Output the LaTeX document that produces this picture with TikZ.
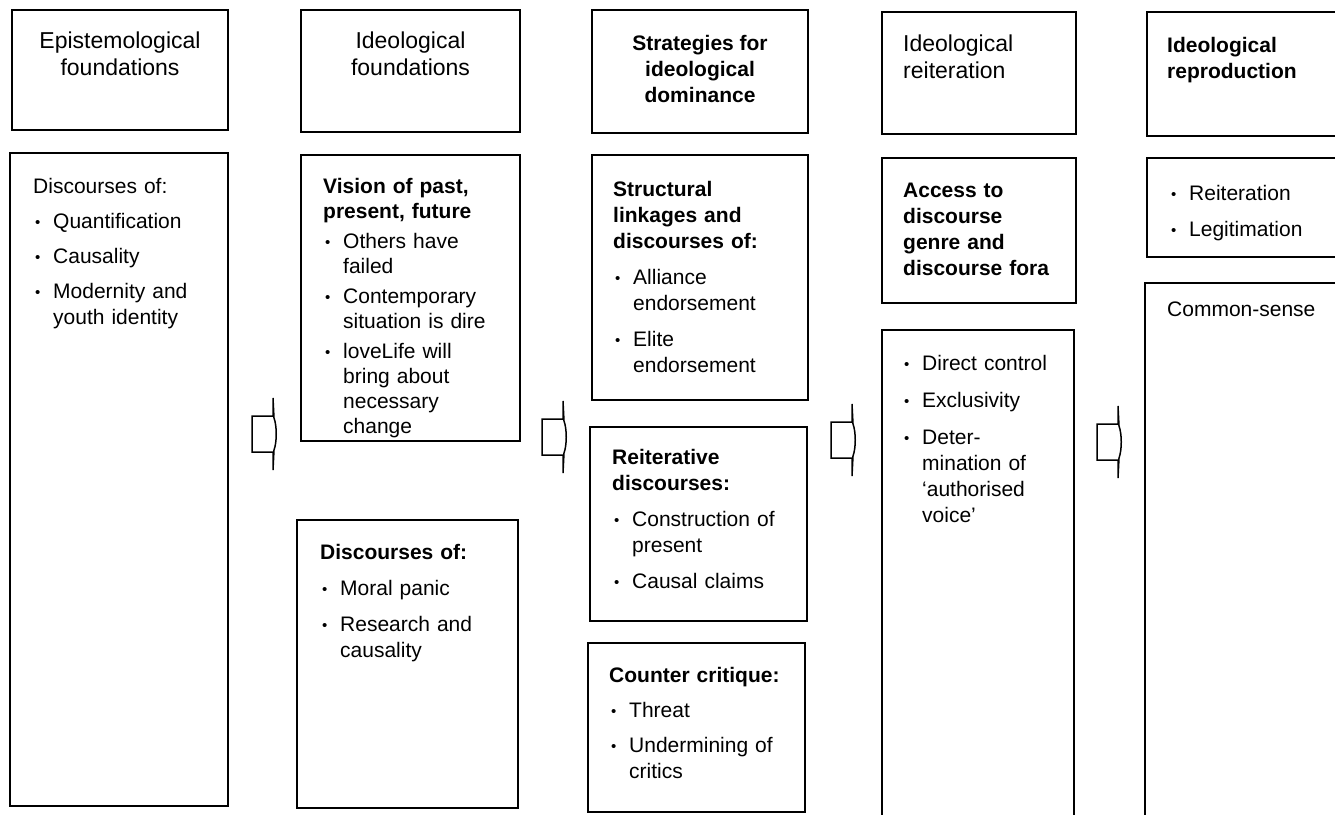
\documentclass[tikz,border=0pt]{standalone}
\usepackage{fontspec}
\setmainfont{Liberation Sans}
\usetikzlibrary{calc}

\newcommand{\bodyfont}{\fontsize{21}{26}\selectfont}
\newcommand{\headfont}{\fontsize{23}{27}\selectfont}
\newcommand{\itmgap}{10pt}
\newcommand{\nl}{\hfil\break}
\newcommand{\bul}{\makebox[20pt][l]{\hspace{2pt}\raisebox{1pt}{\fontsize{15}{15}\selectfont\textbullet}}}
% first item of a box, and every item after a heading
\newcommand{\fitm}[1]{\hangindent=20pt\hangafter=1\noindent\bul#1\par}
\newcommand{\itm}[1]{\par\vspace{\itmgap}\hangindent=20pt\hangafter=1\noindent\bul#1\par}

\tikzset{
  frame/.style={draw, line width=1.5pt, anchor=north west, inner sep=0pt, outer sep=0pt},
  head/.style={anchor=north, align=center, inner sep=0pt, font=\headfont},
  lhead/.style={anchor=north west, align=left, inner sep=0pt, font=\headfont},
  body/.style={anchor=north west, text width=200pt, align=left, inner sep=0pt, font=\bodyfont},
  itemgap/.code={\def\itmgap{#1}},
  blk/.pic={
    \draw[line width=1.5pt, line join=miter] (0,-18) -- (21,-18) -- (21,-36) -- (22,-16)
      .. controls (25,-8) and (25,8) .. (22,16) -- (21,36) -- (21,18) -- (0,18) -- cycle;
  }
}

\begin{document}
\begin{tikzpicture}[x=1pt, y=-1pt]
\useasboundingbox (0,0) rectangle (1335,814);

% column 1
\node[frame, minimum width=216pt, minimum height=120pt] (epihead) at (12,10) {};
\node[frame, minimum width=218pt, minimum height=653pt] (epibody) at (10,153) {};
\node[head] (epititle) at ($(epihead.north)+(0,22)$) {Epistemological\\foundations};
\node[body, itemgap=9pt] (epitext) at ($(epibody.north west)+(23,25)$) {\noindent Discourses of:
  \itm{Quantification}
  \itm{Causality}
  \itm{Modernity and\nl youth identity}};

% column 2
\node[frame, minimum width=219pt, minimum height=286pt] (idvision) at (301,155) {};
\node[frame, minimum width=219pt, minimum height=122pt] (idhead) at (301,10) {};
\node[frame, minimum width=221pt, minimum height=288pt] (iddisc) at (297,520) {};
\node[head] (idtitle) at ($(idhead.north)+(0,22)$) {Ideological\\foundations};
\node[body, itemgap=5pt, font=\fontsize{21}{25}\selectfont] (idvistext) at ($(idvision.north west)+(22,23)$) {\noindent\textbf{Vision of past,\nl present, future}
  \itm{Others have\nl failed}
  \itm{Contemporary\nl situation is dire}
  \itm{loveLife will\nl bring about\nl necessary\nl change}};
\node[body] (iddisctext) at ($(iddisc.north west)+(23,24)$) {\noindent\textbf{Discourses of:}
  \itm{Moral panic}
  \itm{Research and\nl causality}};

% column 3
\node[frame, minimum width=216pt, minimum height=123pt] (strhead) at (592,10) {};
\node[frame, minimum width=216pt, minimum height=245pt] (strlink) at (592,155) {};
\node[frame, minimum width=217pt, minimum height=194pt] (strreit) at (590,427) {};
\node[frame, minimum width=217pt, minimum height=169pt] (strcount) at (588,643) {};
\node[head, font=\bodyfont\bfseries] (strtitle) at ($(strhead.north)+(0,25)$) {Strategies for\\ideological\\dominance};
\node[body] (strlinktext) at ($(strlink.north west)+(21,26)$) {\noindent\textbf{Structural\nl linkages and\nl discourses of:}
  \itm{Alliance\nl endorsement}
  \itm{Elite\nl endorsement}};
\node[body] (strreittext) at ($(strreit.north west)+(22,22)$) {\noindent\textbf{Reiterative\nl discourses:}
  \itm{Construction of\nl present}
  \itm{Causal claims}};
\node[body, itemgap=9pt] (strcounttext) at ($(strcount.north west)+(21,24)$) {\noindent\textbf{Counter critique:}
  \itm{Threat}
  \itm{Undermining of\nl critics}};

% column 4
\node[frame, minimum width=194pt, minimum height=122pt] (reihead) at (882,12) {};
\node[frame, minimum width=194pt, minimum height=145pt] (reiaccess) at (882,158) {};
\node[frame, minimum width=192pt, minimum height=520pt] (reictrl) at (882,330) {};
\node[lhead] (reititle) at ($(reihead.north west)+(21,23)$) {Ideological\\reiteration};
\node[body] (reiaccesstext) at ($(reiaccess.north west)+(21,25)$) {\noindent\textbf{Access to\nl discourse\nl genre and\nl discourse fora}};
\node[body, itemgap=11pt] (reictrltext) at ($(reictrl.north west)+(20,25)$) {\fitm{Direct control}
  \itm{Exclusivity}
  \itm{Deter-\nl mination of\nl ‘authorised\nl voice’}};

% column 5
\node[frame, minimum width=220pt, minimum height=124pt] (rephead) at (1147,12) {};
\node[frame, minimum width=220pt, minimum height=99pt] (repbul) at (1147,158) {};
\node[frame, minimum width=222pt, minimum height=560pt] (repcs) at (1145,283) {};
\node[lhead, font=\bodyfont\bfseries] (reptitle) at ($(rephead.north west)+(20,25)$) {Ideological\\reproduction};
\node[body] (repbultext) at ($(repbul.north west)+(22,27)$) {\fitm{Reiteration}
  \itm{Legitimation}};
\node[body] (repcstext) at ($(repcs.north west)+(22,19)$) {\noindent Common-sense};

% arrows between columns
\pic (arrone) at (252,434) {blk};
\pic (arrtwo) at (542,437) {blk};
\pic (arrthree) at (831,440) {blk};
\pic (arrfour) at (1097,442) {blk};
\end{tikzpicture}
\end{document}
